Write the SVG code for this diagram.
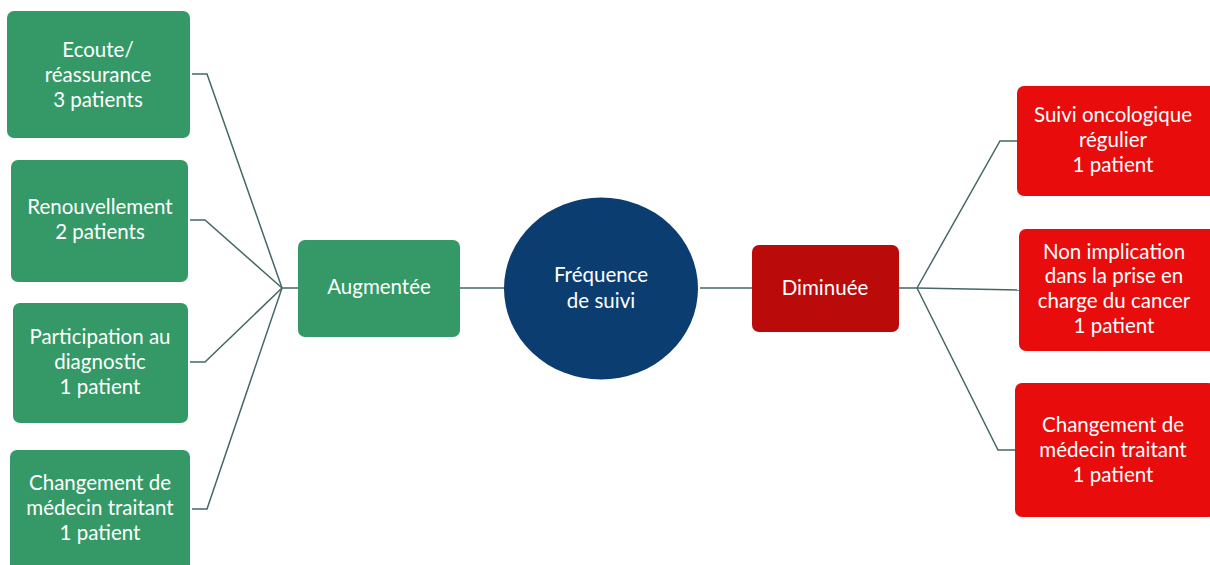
<svg xmlns="http://www.w3.org/2000/svg" width="1210" height="565" viewBox="0 0 1210 565">
<style>
.g{fill:#349966}
.dr{fill:#bb0a0a}
.r{fill:#e80c0c}
.c{fill:#0c3d71}
text{font-family:Lato,"Open Sans","Liberation Sans",sans-serif;font-size:20.5px;fill:#ffffff;text-anchor:middle}
.ln{fill:none;stroke:#456767;stroke-width:1.5}
</style>
<rect width="1210" height="565" fill="#ffffff"/>
<g id="connectors">
<polyline class="ln" points="192,74 207,74 282,288"/>
<polyline class="ln" points="190,220 205,220 282,288"/>
<polyline class="ln" points="190,362 205,362 282,288"/>
<polyline class="ln" points="192,509 207,509 282,288"/>
<line class="ln" x1="282" y1="288" x2="298" y2="288" stroke-width="2"/>
<line class="ln" x1="460" y1="288" x2="504" y2="288" stroke="#8aa0a0"/>
<line class="ln" x1="700" y1="288" x2="752" y2="288" stroke="#8aa0a0"/>
<line class="ln" x1="899" y1="288" x2="917" y2="288" stroke-width="2"/>
<polyline class="ln" points="917,288 1000,141 1017,141"/>
<line class="ln" x1="917" y1="288" x2="1019" y2="290"/>
<polyline class="ln" points="917,288 998,450 1015,450"/>
</g>
<g id="n-ecoute"><rect class="g" x="7" y="11" width="183" height="127" rx="7"/>
<text x="98" y="57">Ecoute/</text><text x="98" y="82">réassurance</text><text x="98" y="107">3 patients</text></g>
<g id="n-renouvellement"><rect class="g" x="11" y="160" width="177" height="122" rx="7"/>
<text x="100" y="214">Renouvellement</text><text x="100" y="239">2 patients</text></g>
<g id="n-participation"><rect class="g" x="13" y="303" width="175" height="120" rx="7"/>
<text x="100" y="344">Participation au</text><text x="100" y="369">diagnostic</text><text x="100" y="394">1 patient</text></g>
<g id="n-changement-l"><rect class="g" x="10" y="450" width="180" height="125" rx="7"/>
<text x="100" y="490">Changement de</text><text x="100" y="515">médecin traitant</text><text x="100" y="540">1 patient</text></g>
<g id="n-augmentee"><rect class="g" x="298" y="240" width="162" height="97" rx="7"/>
<text x="379" y="294">Augmentée</text></g>
<g id="n-frequence"><ellipse class="c" cx="601" cy="288.5" rx="97" ry="91"/>
<text x="601" y="282">Fréquence</text><text x="601" y="308">de suivi</text></g>
<g id="n-diminuee"><rect class="dr" x="752" y="245" width="147" height="87" rx="7"/>
<text x="825" y="295">Diminuée</text></g>
<g id="n-suivi"><rect class="r" x="1017" y="86" width="200" height="110" rx="7"/>
<text x="1113" y="122">Suivi oncologique</text><text x="1113" y="147">régulier</text><text x="1113" y="172">1 patient</text></g>
<g id="n-nonimplication"><rect class="r" x="1019" y="229" width="200" height="122" rx="7"/>
<text x="1114" y="259">Non implication</text><text x="1114" y="283">dans la prise en</text><text x="1114" y="308">charge du cancer</text><text x="1114" y="333">1 patient</text></g>
<g id="n-changement-r"><rect class="r" x="1015" y="383" width="200" height="134" rx="7"/>
<text x="1113" y="432">Changement de</text><text x="1113" y="457">médecin traitant</text><text x="1113" y="482">1 patient</text></g>
</svg>
